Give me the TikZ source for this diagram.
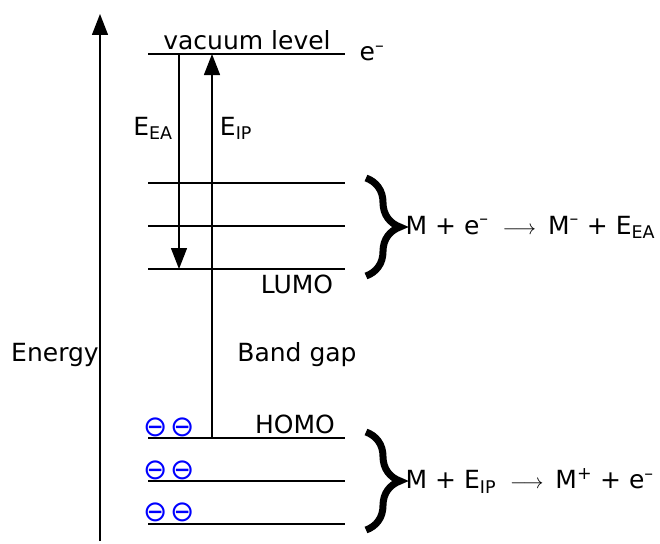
\documentclass[tikz,border=0pt]{standalone}
\usepackage{fontspec}
\setmainfont{DejaVu Sans}
\usetikzlibrary{arrows.meta, positioning, decorations.pathreplacing}
\definecolor{eblue}{HTML}{0000FF}
\newcommand{\minussup}{\textsuperscript{\textendash}}
\newcommand{\yields}{\hspace{14pt}{\fontsize{22}{22}\selectfont$\longrightarrow$}\hspace{12pt}}
\tikzset{
  every picture/.style={font=\fontsize{25}{30}\selectfont, line width=1.3pt},
  level/.style={line width=1.3pt},
  arrow/.style={-{Triangle[length=21pt, width=16pt]}, line width=1.4pt},
  bracket/.style={decorate, decoration={brace, amplitude=34pt}, line width=7pt},
  electron/.style={text=eblue, font=\fontsize{29}{29}\selectfont, inner sep=0pt},
  label/.style={inner sep=0pt},
}
\begin{document}
\begin{tikzpicture}[x=1pt, y=-1pt]
  \useasboundingbox (0,0) rectangle (660,543);
  % energy levels
  \foreach \n/\y in {vac/54, lu3/183, lu2/226, lumo/269, homo/438, ho2/481, ho3/524} {
    \coordinate (\n-w) at (148,\y);
    \coordinate (\n-e) at (345,\y);
    \draw[level] (\n-w) -- (\n-e);
  }
  % energy axis
  \coordinate (ax-bot) at (100,541);
  \coordinate (ax-top) at (100,14);
  \draw[arrow] (ax-bot) -- (ax-top);
  \node[label] (energy) at (55,355) {Energy};
  % electron affinity and ionisation potential
  \coordinate (ea) at (179,54);
  \draw[arrow] (ea) -- (ea |- lumo-w);
  \coordinate (ip) at (212,438);
  \draw[arrow] (ip) -- (ip |- vac-w);
  \node[label] (ea-lbl) at (153,128) {E\textsubscript{EA}};
  \node[label] (ip-lbl) at (236,128) {E\textsubscript{IP}};
  % level labels
  \node[label] (vac-lbl) at (247,40) {vacuum level};
  \node[label] (e-free) at (372,53) {e\minussup};
  \node[label] (lumo-lbl) at (297,284) {LUMO};
  \node[label] (homo-lbl) at (295,424) {HOMO};
  \node[label] (gap-lbl) at (297,355) {Band gap};
  % electrons
  \foreach \n/\y in {homo/427, ho2/470, ho3/512} {
    \node[electron] (\n-e1) at (156,\y) {⊖};
    \node[electron] (\n-e2) at (183,\y) {⊖};
  }
  % braces and reactions
  \draw[bracket] (366,178) -- (366,276);
  \coordinate (br-ea) at (400,227);
  \node[label, right=5pt of br-ea] (eq-ea) {M + e\minussup\yields M\minussup{} + E\textsubscript{EA}};
  \draw[bracket] (366,432) -- (366,530);
  \coordinate (br-ip) at (400,481);
  \node[label, right=5pt of br-ip] (eq-ip) {M + E\textsubscript{IP}\yields M\textsuperscript{+} + e\minussup};
\end{tikzpicture}
\end{document}
